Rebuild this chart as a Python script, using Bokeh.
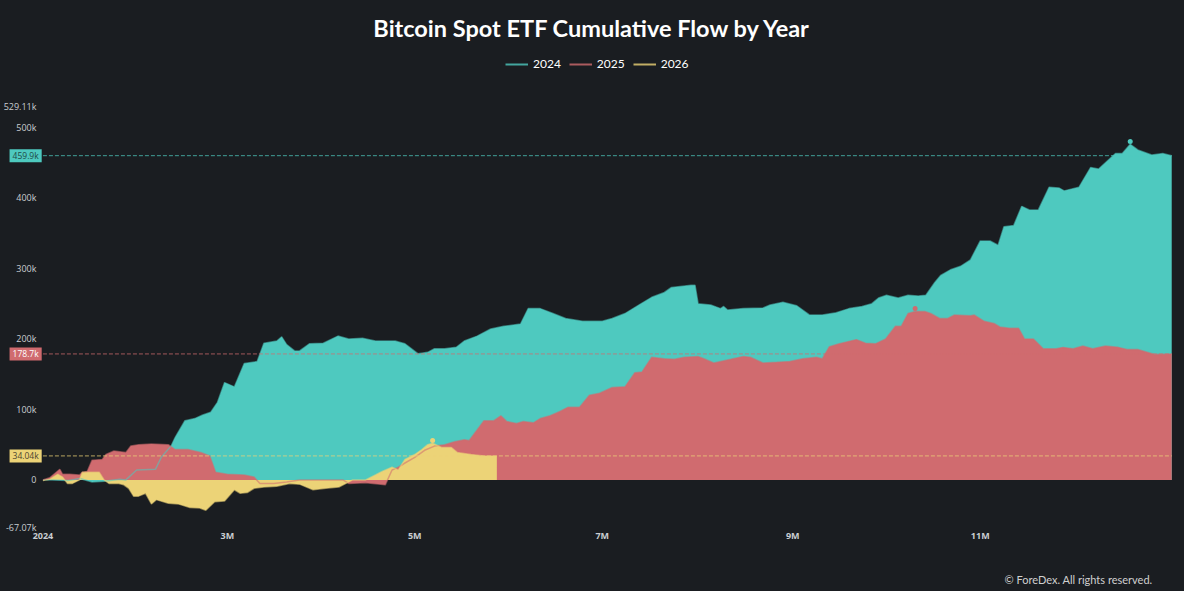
from bokeh.plotting import figure
from bokeh.models import Range1d, FixedTicker, Label, Legend, LegendItem, Title
from bokeh.embed import file_html
from bokeh.resources import INLINE
import numpy as np

# ---- data (day of year, cumulative flow in thousands) ----
days_2024 = [0, 3, 8, 12, 16, 20, 25, 27, 30.5, 36.6, 38.5, 41.7, 43, 46.2, 49.4, 52, 54.6, 56.8, 59.1,
             62.3, 65.5, 69.7, 71.9, 76.1, 77.7, 79.3, 81.9, 83.5, 86.7, 91.2, 96, 99.5, 104, 108.2,
             114.6, 117.8, 122, 125.2, 127.4, 130.7, 134.5, 137.1, 141.3, 145.7, 149.9, 155.4, 157.9,
             161.8, 166, 170.1, 175.6, 182, 185.2, 189.4, 193.9, 198.1, 202.2, 204.5, 210.9, 212.2,
             213.2, 217.3, 220.5, 221.5, 222.8, 227.9, 234.3, 236.6, 240.8, 245.3, 249.4, 253.6,
             258.1, 262.3, 266.5, 269.7, 271.9, 274.5, 278.3, 281.5, 284.8, 287.3, 290.2, 292.1,
             295.3, 298.6, 301.8, 305, 308.2, 310.8, 312.7, 315.9, 318.5, 321, 323.9, 327.4, 330.7,
             332.3, 337.1, 340.9, 343.5, 349, 351.2, 353.8, 356.3, 360.8, 364.4, 367.3]
flow_2024 = [0, 0, -1, 2, -3, -2, 1, 0, 14, 15, 32, 48, 60, 84, 87, 92, 96, 110, 138,
             132, 165, 168, 194, 197, 203, 192, 183, 183, 193, 194, 204, 200, 201, 197,
             197, 193, 179, 181, 186, 186, 188, 197, 204, 214, 218, 221, 243,
             243, 236, 229, 225, 225, 229, 236, 248, 259, 266, 273, 276, 276,
             250, 248, 243, 246, 241, 243, 244, 248, 252, 247, 234, 234,
             237, 243, 246, 250, 258, 262, 258, 262, 261, 262, 280, 290,
             298, 303, 312, 339, 339, 333, 359, 361, 388, 383, 383, 415, 414,
             410, 415, 443, 441, 463, 463, 476, 468, 461, 463, 459.9]

days_2025 = [0, 2.2, 5.5, 6.4, 8.7, 11.9, 12.8, 14.4, 16, 19.3, 20.5, 23.1, 27, 28.6, 31.1, 35.3,
             40.8, 43, 47.2, 51.4, 54.3, 56.2, 60, 65.5, 68.7, 70.6, 75.1, 79.3, 83.5, 92.1, 97.6,
             99.5, 105, 111.4, 113.6, 115.6, 117.8, 121, 124.2, 127.4, 130.7, 133.9, 137.1, 138.7,
             143.5, 146.7, 149, 150.9, 154.1, 156.3, 159.6, 161.8, 165, 168.2, 170.8, 174.6, 177.8,
             181.1, 185.2, 189.4, 192.6, 194.9, 198.1, 202.2, 205.5, 208.7, 213.2, 215.1, 218.3,
             220.5, 223.8, 227.9, 230.2, 234.3, 238.8, 243, 247.2, 251.7, 253.6, 255.9, 259.1,
             264.7, 267.7, 270.9, 274.2, 277.4, 279.3, 281.5, 283.8, 287, 288.9, 291.8, 294.4,
             296.6, 301.8, 303, 306.3, 309.5, 311.4, 314.6, 317.5, 319.4, 322.3, 325.5, 329.7,
             331.9, 335.2, 338.4, 341.6, 345.7, 349.9, 352.8, 356.3, 361.8, 367.3]
flow_2025 = [0, 3, 15, 8, 8, 7, 11, 12, 28, 29, 36, 41, 39, 48, 50, 51,
             50, 43, 43, 39, 34, 11, 8, 7, 4, -5, -5, -3, 0, 0, 0,
             -5, -4, -7, 14, 18, 24, 32, 42, 48, 50, 54, 57, 56,
             84, 84, 91, 83, 80, 83, 81, 87, 91, 97, 103, 103, 120,
             123, 131, 132, 152, 153, 174, 172, 171, 174, 175, 172, 166,
             168, 171, 175, 174, 166, 167, 168, 172, 174, 172, 189, 193,
             199, 194, 193, 200, 218, 218, 236, 239, 239, 236, 229, 229,
             234, 233, 234, 225, 222, 217, 215, 215, 200, 200, 186, 186,
             188, 186, 190, 186, 190, 188, 185, 185, 178, 178.7]

days_2026 = [0, 2.2, 4.8, 6.4, 8, 9.6, 11.9, 12.8, 15.1, 18.3, 19.9, 21.5, 24.7, 26.3, 27.9, 29.5,
             31.1, 33.4, 35.3, 36.9, 40.8, 44, 47.8, 51, 53, 55.9, 59.1, 62.3, 64.2, 66.5, 68.7,
             71.9, 76.1, 80.3, 83.5, 87.9, 92.1, 96.3, 98.6, 100.8, 105, 108.2, 110.4, 113.6,
             115.6, 117.8, 121, 123.3, 125.2, 126.8, 129.7, 132.9, 134.8, 139.3, 143.5, 147.7]
flow_2026 = [-1, 1, 8, 4, -5, -5, 0, 11, 11, 11, 0, -5, -5, -7, -12, -23,
             -23, -19, -34, -28, -33, -34, -39, -40, -43, -31, -30, -14, -19, -18, -12,
             -10, -9, -5, -6, -14, -12, -10, -5, 0, 0, 7, 12, 18,
             14, 29, 36, 43, 50, 52, 46, 46, 39, 36, 34, 34.04]

series_names = ["2024", "2025", "2026"]
series_colors = ["#4ec9bf", "#d06b6f", "#ecd377"]
latest_labels = ["459.9k", "178.7k", "34.04k"]
latest_label_text_colors = ["#1f4a46", "#ffffff", "#4d4530"]

x_tick_days = [0, 60, 121, 182, 244, 305]
x_tick_labels = ["2024", "3M", "5M", "7M", "9M", "11M"]
y_min, y_max = -67.07, 529.11
y_ticks = [y_min, 0, 100, 200, 300, 400, 500, y_max]
y_tick_labels = ["-67.07k", "0", "100k", "200k", "300k", "400k", "500k", "529.11k"]

title_text = "Bitcoin Spot ETF Cumulative Flow by Year"
copyright_text = "\u00a9 ForeDex. All rights reserved."

BG = "#1a1d21"
AXIS_TEXT = "#c9cdd1"

# layout geometry (pixels)
W, H = 1184, 591
FRAME_LEFT = 4
FRAME_BOTTOM_BORDER = 64
PX_PER_DAY = 3.0732
DAY0_PX = 42.43
x_start = -(DAY0_PX - FRAME_LEFT) / PX_PER_DAY
x_end = x_start + (W - FRAME_LEFT) / PX_PER_DAY

p = figure(width=W, height=H, output_backend="svg", toolbar_location=None,
           x_range=Range1d(x_start, x_end), y_range=Range1d(-67.5, 680.0),
           min_border_left=FRAME_LEFT, min_border_right=0, min_border_top=0,
           min_border_bottom=FRAME_BOTTOM_BORDER)
# one uniform dark page background (avoids seams between border and frame fills)
p.styles = {"background-color": BG}
p.background_fill_color = None
p.border_fill_color = None
p.outline_line_color = None
p.grid.visible = False

all_days = [days_2024, days_2025, days_2026]
all_flows = [flow_2024, flow_2025, flow_2026]

for d, f, c in zip(all_days, all_flows, series_colors):
    p.varea(x=d, y1=[0] * len(d), y2=f, fill_color=c, fill_alpha=1.0)

for d, f, c in zip(all_days, all_flows, series_colors):
    p.line(x=d, y=f, line_color=c, line_width=1.5, line_alpha=0.55)

# peak markers
for d, f, c in zip(all_days, all_flows, series_colors):
    i = int(np.argmax(f))
    p.scatter(x=[d[i]], y=[f[i] + 4], size=5, fill_color=c, line_color=None)

# latest value reference lines + boxed labels on the axis
for d, f, c, lab, tc in zip(all_days, all_flows, series_colors, latest_labels, latest_label_text_colors):
    p.segment(x0=[0], y0=[f[-1]], x1=[days_2024[-1]], y1=[f[-1]], line_color=c,
              line_dash="4 2", line_width=1, line_alpha=0.75)
    p.add_layout(Label(x=-0.4, y=f[-1], text=lab, text_align="right", text_baseline="middle",
                       text_font_size="8.5px", text_color=tc, text_font="Open Sans",
                       background_fill_color=c, padding=(3, 1)))

# axes
p.xaxis.ticker = FixedTicker(ticks=x_tick_days)
p.xaxis.major_label_overrides = {t: l for t, l in zip(x_tick_days, x_tick_labels)}
p.yaxis.ticker = FixedTicker(ticks=y_ticks)
p.yaxis.major_label_overrides = {t: l for t, l in zip(y_ticks, y_tick_labels)}
for ax in (p.xaxis, p.yaxis):
    ax.axis_line_color = None
    ax.major_tick_line_color = None
    ax.minor_tick_line_color = None
    ax.major_tick_out = 0
    ax.major_tick_in = 0
    ax.major_label_text_color = AXIS_TEXT
    ax.major_label_text_font = "Open Sans"
    ax.major_label_text_font_size = "9px"
p.xaxis.major_label_text_font_style = "bold"
p.xaxis.major_label_standoff = 1
p.yaxis.major_label_standoff = -32

# title
p.add_layout(Label(x=178.8, y=640.5, text=title_text, text_align="center", text_baseline="middle",
                   text_font="Lato", text_font_style="bold", text_font_size="23.5px",
                   text_color="#ffffff"))

# legend (sample lines; single-point renderers draw nothing in the plot)
items = []
for d, f, name, c in zip(all_days, all_flows, series_names, series_colors):
    r = p.line(x=[d[0]], y=[f[0]], line_color=c, line_width=2, line_alpha=0.8)
    items.append(LegendItem(label=name, renderers=[r]))
legend = Legend(items=items, orientation="horizontal", location=(501, 456),
                background_fill_alpha=0, border_line_color=None,
                label_text_color="#ffffff", label_text_font="Lato", label_text_font_size="12px",
                glyph_width=23, glyph_height=14, label_standoff=5, spacing=8,
                padding=0, margin=0)
p.add_layout(legend, "center")

# copyright (a thin spacer title keeps it near the bottom edge)
p.add_layout(Title(text=" ", text_font_size="1px", standoff=23, text_color=BG), "below")
p.add_layout(Title(text=copyright_text, align="right", offset=32, standoff=0,
                   vertical_align="bottom",
                   text_font="Lato", text_font_style="normal", text_font_size="11px",
                   text_color="#d0d0d0"), "below")

open("out.html", "w").write(file_html(p, INLINE))
